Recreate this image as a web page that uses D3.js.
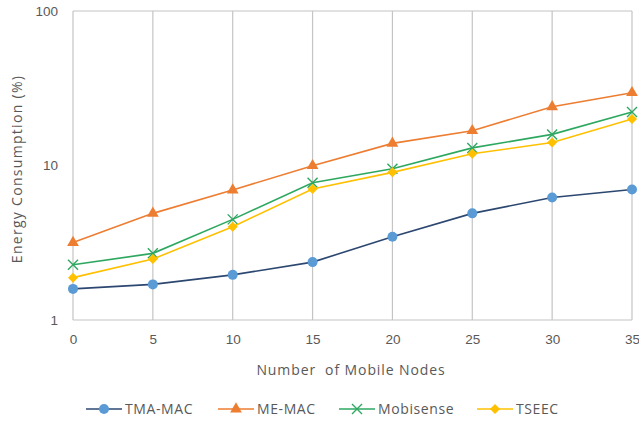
<!DOCTYPE html>
<html><head><meta charset="utf-8">
<script src="https://cdn.jsdelivr.net/npm/d3@7"></script>
<style>body{margin:0;background:#fff;} svg{display:block;font-family:"Open Sans","Noto Sans",sans-serif;}</style>
</head><body>
<svg id="c" width="639" height="423"></svg>
<script>
const nodes = [0, 5, 10, 15, 20, 25, 30, 35];
const tmaMac = [1.59, 1.70, 1.96, 2.37, 3.46, 4.9, 6.2, 7.0];
const meMac = [3.17, 4.9, 6.94, 9.97, 13.9, 16.8, 24.0, 29.6];
const mobisense = [2.28, 2.70, 4.48, 7.74, 9.53, 13.0, 15.9, 22.2];
const tseec = [1.88, 2.48, 4.02, 7.05, 9.03, 11.9, 14.1, 20.0];
const yTicks = [1, 10, 100];
const seriesNames = ["TMA-MAC", "ME-MAC", "Mobisense", "TSEEC"];

const series = [
  {name: seriesNames[0], values: tmaMac, line: "#2c4770", fill: "#5b9bd5", sym: "circle"},
  {name: seriesNames[1], values: meMac, line: "#ed7d31", fill: "#ed7d31", sym: "triangle"},
  {name: seriesNames[2], values: mobisense, line: "#2ea860", fill: "#2ea860", sym: "x"},
  {name: seriesNames[3], values: tseec, line: "#ffc000", fill: "#ffc000", sym: "diamond"}
];

const svg = d3.select("#c");
const L = 73, R = 632, T = 11, B = 320;
const x = d3.scaleLinear().domain([0, 35]).range([L, R]);
const y = d3.scaleLog().domain([1, 100]).range([B, T]);
const grid = "#c4c4c4";
const textCol = "#595959";

svg.append("g").selectAll("line").data(nodes).join("line")
  .attr("x1", d => x(d)).attr("x2", d => x(d)).attr("y1", T).attr("y2", B)
  .attr("stroke", grid).attr("stroke-width", 1.2);
svg.append("line").attr("x1", L).attr("x2", R).attr("y1", y(100)).attr("y2", y(100)).attr("stroke", grid).attr("stroke-width", 1.2);
svg.append("line").attr("x1", L).attr("x2", R).attr("y1", y(1)).attr("y2", y(1)).attr("stroke", grid).attr("stroke-width", 1.2);

const xAxis = d3.axisBottom(x).tickValues(nodes).tickSize(0).tickPadding(14);
const gx = svg.append("g").attr("transform", `translate(0,${B})`).call(xAxis);
gx.select(".domain").remove();
gx.selectAll("text").attr("fill", textCol).attr("font-size", 13.5);

const yAxis = d3.axisLeft(y).tickValues(yTicks).tickFormat(d3.format("d")).tickSize(0).tickPadding(15);
const gy = svg.append("g").attr("transform", `translate(${L},0)`).call(yAxis);
gy.select(".domain").remove();
gy.selectAll("text").attr("fill", textCol).attr("font-size", 13.5);

svg.append("text").attr("x", 351).attr("y", 375).attr("text-anchor", "middle")
  .attr("fill", textCol).attr("font-size", 14).attr("letter-spacing", 0.9)
  .style("white-space", "pre").text("Number  of Mobile Nodes");
svg.append("text").attr("transform", `translate(22,169) rotate(-90)`).attr("text-anchor", "middle")
  .attr("fill", textCol).attr("font-size", 14).attr("letter-spacing", 1.3).text("Energy Consumption (%)");

function marker(g, s, cx, cy) {
  if (s.sym === "circle") {
    g.append("circle").attr("cx", cx).attr("cy", cy).attr("r", 5).attr("fill", s.fill);
  } else if (s.sym === "triangle") {
    g.append("path").attr("transform", `translate(${cx},${cy})`)
      .attr("d", d3.symbol(d3.symbolTriangle, 60)()).attr("fill", s.fill);
  } else if (s.sym === "diamond") {
    g.append("path").attr("transform", `translate(${cx},${cy})`)
      .attr("d", "M0,-5L5,0L0,5L-5,0Z").attr("fill", s.fill);
  } else {
    g.append("path").attr("transform", `translate(${cx},${cy})`)
      .attr("d", "M-5,-5L5,5M-5,5L5,-5").attr("stroke", s.fill).attr("stroke-width", 1.4).attr("fill", "none");
  }
}

const line = d3.line().x((d, i) => x(nodes[i])).y(d => y(d));
series.forEach(s => {
  const g = svg.append("g");
  g.append("path").attr("d", line(s.values)).attr("fill", "none").attr("stroke", s.line).attr("stroke-width", 1.6);
  s.values.forEach((v, i) => marker(g, s, x(nodes[i]), y(v)));
});

const legX = [86, 218, 339, 477];
series.forEach((s, i) => {
  const g = svg.append("g");
  const lx = legX[i], ly = 409;
  g.append("line").attr("x1", lx).attr("x2", lx + 36).attr("y1", ly).attr("y2", ly)
    .attr("stroke", s.line).attr("stroke-width", 1.6);
  marker(g, s, lx + 18, ly);
  g.append("text").attr("x", lx + 39).attr("y", ly + 5).attr("fill", textCol).attr("font-size", 14)
    .attr("letter-spacing", 0.6).text(s.name);
});
</script>
</body></html>
